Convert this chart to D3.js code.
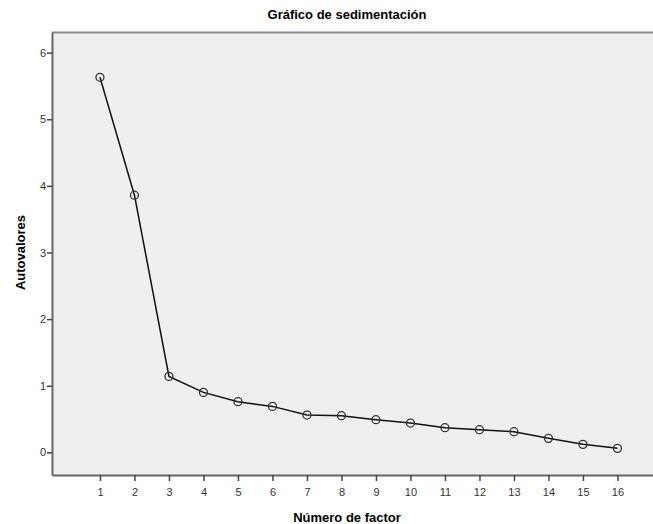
<!DOCTYPE html>
<html>
<head>
<meta charset="utf-8">
<script src="https://cdn.jsdelivr.net/npm/d3@7"></script>
<style>
  body { margin: 0; background: #fff; }
  text { font-family: "Liberation Sans", Arial, sans-serif; }
</style>
</head>
<body>
<div id="chart"></div>
<script>
const FACTORS = [1, 2, 3, 4, 5, 6, 7, 8, 9, 10, 11, 12, 13, 14, 15, 16];
const EIGENVALUES = [5.63, 3.86, 1.14, 0.90, 0.76, 0.69, 0.56, 0.55, 0.49, 0.44, 0.37, 0.34, 0.31, 0.21, 0.12, 0.06];
const Y_TICKS = [0, 1, 2, 3, 4, 5, 6];

const WIDTH = 653;
const HEIGHT = 524;
const MARGIN = { TOP: 32, RIGHT: 0, BOTTOM: 49, LEFT: 52 };
const PLOT_W = WIDTH - MARGIN.LEFT - MARGIN.RIGHT;
const PLOT_H = HEIGHT - MARGIN.TOP - MARGIN.BOTTOM;

const SVG = d3.select("#chart").append("svg")
  .attr("width", WIDTH)
  .attr("height", HEIGHT);

const CHART = SVG.append("g")
  .attr("transform", "translate(" + MARGIN.LEFT + "," + MARGIN.TOP + ")");

const X_SCALE = d3.scaleLinear().domain([-0.39, 17.03]).range([0, PLOT_W]);
const Y_SCALE = d3.scaleLinear().domain([-0.34, 6.31]).range([PLOT_H, 0]);

// plot background
CHART.append("rect")
  .attr("width", PLOT_W)
  .attr("height", PLOT_H)
  .attr("fill", "#efefef");

// frame top
CHART.append("line")
  .attr("x1", 0).attr("x2", PLOT_W)
  .attr("y1", 0.5).attr("y2", 0.5)
  .attr("stroke", "#8a8a8a").attr("stroke-width", 2);

const X_AXIS = d3.axisBottom(X_SCALE)
  .tickValues(FACTORS)
  .tickSize(6)
  .tickSizeOuter(0)
  .tickFormat(d3.format("d"));

const Y_AXIS = d3.axisLeft(Y_SCALE)
  .tickValues(Y_TICKS)
  .tickSize(5)
  .tickSizeOuter(0)
  .tickFormat(d3.format("d"));

const GX = CHART.append("g")
  .attr("transform", "translate(0," + PLOT_H + ")")
  .call(X_AXIS);

const GY = CHART.append("g").call(Y_AXIS);

[GX, GY].forEach((g) => {
  g.select(".domain").attr("stroke", "#666").attr("stroke-width", 2);
  g.selectAll(".tick line").attr("stroke", "#444").attr("stroke-width", 1.5);
  g.selectAll(".tick text")
    .attr("fill", "#333")
    .style("font-size", "11px")
    .style("font-family", "'Liberation Sans', Arial, sans-serif");
});
GX.selectAll(".tick text").attr("dy", "1.05em");
GY.selectAll(".tick text").attr("x", -6);

const LINE = d3.line()
  .x((d, i) => X_SCALE(FACTORS[i]))
  .y((d) => Y_SCALE(d));

CHART.append("path")
  .datum(EIGENVALUES)
  .attr("fill", "none")
  .attr("stroke", "#111")
  .attr("stroke-width", 1.5)
  .attr("d", LINE);

CHART.selectAll(".dot")
  .data(EIGENVALUES)
  .enter()
  .append("circle")
  .attr("class", "dot")
  .attr("cx", (d, i) => X_SCALE(FACTORS[i]))
  .attr("cy", (d) => Y_SCALE(d))
  .attr("r", 4)
  .attr("fill", "none")
  .attr("stroke", "#333")
  .attr("stroke-width", 1.3);

SVG.append("text")
  .attr("x", 347)
  .attr("y", 19)
  .attr("text-anchor", "middle")
  .style("font-size", "13px")
  .style("font-weight", "bold")
  .text("Gráfico de sedimentación");

SVG.append("text")
  .attr("x", 347)
  .attr("y", 522)
  .attr("text-anchor", "middle")
  .style("font-size", "13px")
  .style("font-weight", "bold")
  .text("Número de factor");

SVG.append("text")
  .attr("transform", "translate(25," + (MARGIN.TOP + Y_SCALE(3)) + ") rotate(-90)")
  .attr("text-anchor", "middle")
  .style("font-size", "13px")
  .style("font-weight", "bold")
  .text("Autovalores");
</script>
</body>
</html>
